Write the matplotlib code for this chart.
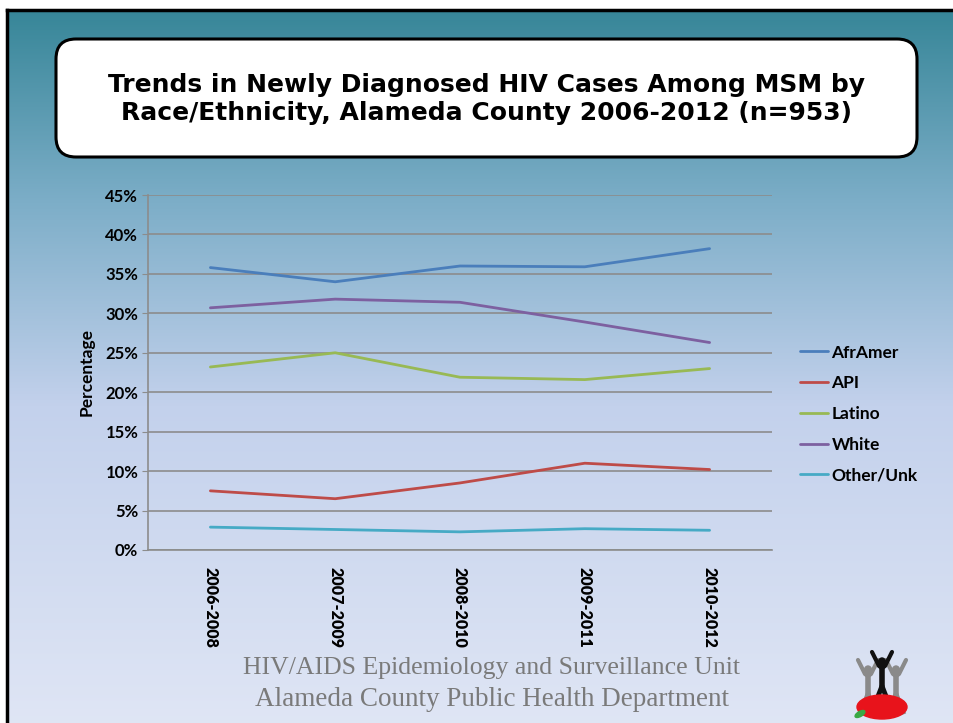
import numpy as np
import matplotlib
matplotlib.use("Agg")
import matplotlib.pyplot as plt
from matplotlib.patches import FancyBboxPatch, Ellipse
from matplotlib.ticker import FuncFormatter

periods = ["2006-2008", "2007-2009", "2008-2010", "2009-2011", "2010-2012"]
afr_amer = [35.8, 34.0, 36.0, 35.9, 38.2]
api = [7.5, 6.5, 8.5, 11.0, 10.2]
latino = [23.2, 25.0, 21.9, 21.6, 23.0]
white = [30.7, 31.8, 31.4, 28.9, 26.3]
other_unk = [2.9, 2.6, 2.3, 2.7, 2.5]
series_names = ["AfrAmer", "API", "Latino", "White", "Other/Unk"]
colors = ["#4a7ebb", "#be4b48", "#98b954", "#7d60a0", "#46aac5"]

title = "Trends in Newly Diagnosed HIV Cases Among MSM by\nRace/Ethnicity, Alameda County 2006-2012 (n=953)"
footer = ["HIV/AIDS Epidemiology and Surveillance Unit",
          "Alameda County Public Health Department"]

W, H = 954, 723
fig = plt.figure(figsize=(W / 100, H / 100), dpi=100)
fig.patch.set_facecolor("white")

# slide background gradient
bg = fig.add_axes([0, 0, 1, 1])
bg.axis("off")
stops_y = [10, 200, 400, 723]
stops_c = np.array([[0x37, 0x86, 0x98], [0x7d, 0xae, 0xc8],
                    [0xc3, 0xd1, 0xec], [0xe0, 0xe6, 0xf5]]) / 255
yy = np.linspace(10, H, 300)
grad = np.stack([np.interp(yy, stops_y, stops_c[:, k]) for k in range(3)], axis=1)
bg.imshow(grad[:, None, :], extent=[7, W + 10, H + 10, 10], aspect="auto", zorder=0)
bg.plot([7, W + 10], [10, 10], color="black", lw=2.5, zorder=1)
bg.plot([7, 7], [10, H + 10], color="black", lw=2.5, zorder=1)
bg.set_xlim(0, W)
bg.set_ylim(H, 0)

# title box
box = FancyBboxPatch((56, 39), 861, 118, boxstyle="round,pad=0,rounding_size=20",
                     facecolor="white", edgecolor="black", lw=2.2, zorder=2)
bg.add_patch(box)
bg.text(487, 99, title, ha="center", va="center", fontsize=18,
        fontweight="bold", family="DejaVu Sans", linespacing=1.25, zorder=3)

# footer
bg.text(492, 668, footer[0], ha="center", va="center", fontsize=18.5,
        family="Liberation Serif", color="#7a7a7a", zorder=3)
bg.text(492, 699, footer[1], ha="center", va="center", fontsize=19.5,
        family="Liberation Serif", color="#7a7a7a", zorder=3)

# simple logo
bg.add_patch(Ellipse((882, 707), 50, 24, color="#e8131b", zorder=6))
bg.add_patch(Ellipse((860, 714), 11, 5, angle=-30, color="#3aa845", zorder=6))
for cx, col, top in [(868, "#8a8a8a", 660), (896, "#8a8a8a", 660), (882, "#111111", 652)]:
    bg.plot([cx - 10, cx - 3, cx, cx + 3, cx + 10], [top, top + 14, top + 16, top + 14, top],
            color=col, lw=3, zorder=4, solid_capstyle="round")
    bg.plot([cx, cx], [top + 16, top + 34], color=col, lw=4, zorder=4)
    bg.plot([cx - 7, cx, cx + 7], [top + 52, top + 34, top + 52], color=col, lw=3.5, zorder=4)
    bg.add_patch(Ellipse((cx, top + 10), 7, 8, color=col, zorder=4))

# chart
ax = fig.add_axes([148 / W, 1 - 550 / H, (772 - 148) / W, (550 - 195) / H])
ax.set_facecolor("none")
x = np.arange(len(periods))
for name, vals, c in zip(series_names, [afr_amer, api, latino, white, other_unk], colors):
    ax.plot(x, vals, color=c, lw=2.0, label=name, solid_capstyle="round")

ax.set_xlim(-0.5, len(periods) - 0.5)
ax.set_ylim(0, 45)
ax.set_yticks(np.arange(0, 46, 5))
ax.yaxis.set_major_formatter(FuncFormatter(lambda v, p: f"{v:.0f}%"))
ax.set_xticks(x)
ax.set_xticklabels(periods)
for t in ax.get_xticklabels():
    t.set_rotation(270)
    t.set_fontweight("heavy")
    t.set_family("Lato")
    t.set_fontsize(11.5)
for t in ax.get_yticklabels():
    t.set_fontweight("bold")
    t.set_family("Lato")
    t.set_fontsize(12)
ax.grid(axis="y", color="#8c8c8c", lw=1.2)
ax.set_axisbelow(True)
for s in ["top", "right"]:
    ax.spines[s].set_visible(False)
for s in ["left", "bottom"]:
    ax.spines[s].set_color("#8c8c8c")
    ax.spines[s].set_linewidth(1.2)
ax.tick_params(axis="y", length=4, color="#8c8c8c", pad=3)
ax.tick_params(axis="x", length=0, pad=12)
ax.set_ylabel("Percentage", fontsize=12.5, fontweight="bold", family="Lato", labelpad=8)

leg = ax.legend(loc="center left", bbox_to_anchor=(1.02, 0.383), frameon=False,
                prop={"family": "Lato", "weight": "bold", "size": 12.5},
                handlelength=1.6, handletextpad=0.2, labelspacing=0.85)

fig.savefig("out.png", dpi=100)
